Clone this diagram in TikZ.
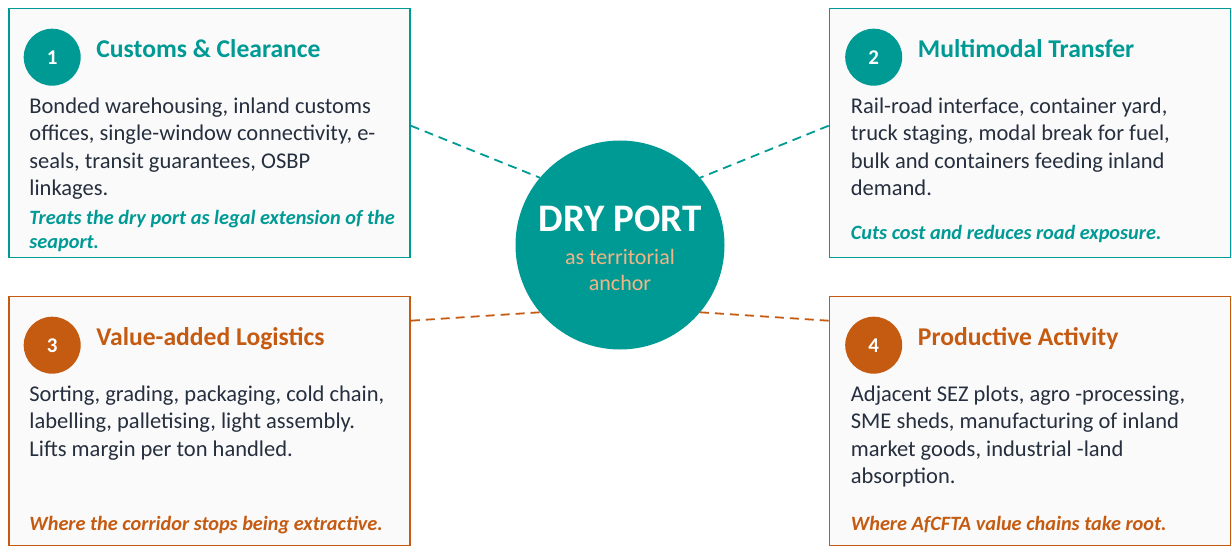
\documentclass[tikz,border=0pt]{standalone}
\usepackage{fontspec}
\setmainfont{Carlito}
\usepackage{xcolor}
\usetikzlibrary{positioning}

\definecolor{portTeal}{HTML}{009A95}
\definecolor{portOrange}{HTML}{C55A11}
\definecolor{portPeach}{HTML}{F2B485}
\definecolor{panelBg}{HTML}{FAFAFB}
\definecolor{bodyInk}{HTML}{262F3E}

\begin{document}
\begin{tikzpicture}[
    x=1pt, y=-1pt,
    panel/.style={rectangle, draw, line width=1.6pt, fill=panelBg, minimum width=401pt, minimum height=249pt, inner sep=0pt},
    badge/.style={circle, minimum size=57pt, inner sep=0pt, text=white, font=\fontsize{21}{25}\selectfont\bfseries},
    heading/.style={anchor=base west, inner sep=0pt, font=\fontsize{25.6}{30}\selectfont\bfseries},
    body/.style={anchor=north west, inner sep=0pt, align=left, text=bodyInk, font=\fontsize{22.5}{27.3}\selectfont},
    note/.style={anchor=north west, inner sep=0pt, align=left, font=\fontsize{20.3}{24}\selectfont\bfseries\itshape},
    link/.style={line width=1.8pt, dash pattern=on 9pt off 6pt}
]
\useasboundingbox (0,0) rectangle (1231,548);

% four panels
\node[panel, draw=portTeal] (custom) at (209.5,133) {};
\node[panel, draw=portTeal] (transfer) at (1030,133) {};
\node[panel, draw=portOrange] (logistic) at (209.5,421) {};
\node[panel, draw=portOrange] (product) at (1030,421) {};

% central hub
\node[circle, fill=portTeal, minimum size=209pt, inner sep=0pt] (hub) at (620,245) {};
\node[anchor=base, inner sep=0pt, text=white, font=\fontsize{39}{44}\selectfont\bfseries] (hubname) at ([yshift=14pt]hub.center) {DRY PORT};
\node[anchor=north, inner sep=0pt, align=center, text=portPeach, font=\fontsize{22}{26}\selectfont] (hubrole) at ([yshift=-1pt]hub.center) {\strut as territorial\\ anchor};

% panel 1
\node[badge, fill=portTeal] (n1) at ([xshift=44pt, yshift=-49.5pt]custom.north west) {1};
\node[heading, text=portTeal] (t1) at ([xshift=88pt, yshift=-50pt]custom.north west) {Customs \& Clearance};
\node[body] (b1) at ([xshift=21pt, yshift=-86.4pt]custom.north west) {\strut Bonded warehousing, inland customs\\ offices, single-window connectivity, e-\\ seals, transit guarantees, OSBP\\ linkages.};
\node[note, text=portTeal] (s1) at ([xshift=21pt, yshift=-200pt]custom.north west) {\strut Treats the dry port as legal extension of the\\ seaport.};

% panel 2
\node[badge, fill=portTeal] (n2) at ([xshift=45pt, yshift=-49.5pt]transfer.north west) {2};
\node[heading, text=portTeal] (t2) at ([xshift=89pt, yshift=-50pt]transfer.north west) {Multimodal Transfer};
\node[body] (b2) at ([xshift=22pt, yshift=-86.4pt]transfer.north west) {\strut Rail-road interface, container yard,\\ truck staging, modal break for fuel,\\ bulk and containers feeding inland\\ demand.};
\node[note, text=portTeal] (s2) at ([xshift=22pt, yshift=-215.2pt]transfer.north west) {\strut Cuts cost and reduces road exposure.};

% panel 3
\node[badge, fill=portOrange] (n3) at ([xshift=44pt, yshift=-49.5pt]logistic.north west) {3};
\node[heading, text=portOrange] (t3) at ([xshift=88pt, yshift=-50pt]logistic.north west) {Value-added Logistics};
\node[body] (b3) at ([xshift=21pt, yshift=-86.4pt]logistic.north west) {\strut Sorting, grading, packaging, cold chain,\\ labelling, palletising, light assembly.\\ Lifts margin per ton handled.};
\node[note, text=portOrange] (s3) at ([xshift=21pt, yshift=-218pt]logistic.north west) {\strut Where the corridor stops being extractive.};

% panel 4
\node[badge, fill=portOrange] (n4) at ([xshift=45pt, yshift=-49.5pt]product.north west) {4};
\node[heading, text=portOrange] (t4) at ([xshift=89pt, yshift=-50pt]product.north west) {Productive Activity};
\node[body] (b4) at ([xshift=22pt, yshift=-86.4pt]product.north west) {\strut Adjacent SEZ plots, agro -processing,\\ SME sheds, manufacturing of inland\\ market goods, industrial -land\\ absorption.};
\node[note, text=portOrange] (s4) at ([xshift=22pt, yshift=-218pt]product.north west) {\strut Where AfCFTA value chains take root.};

% dashed spokes
\coordinate (p1) at ([yshift=-118pt]custom.north east);
\coordinate (p2) at ([yshift=-118pt]transfer.north west);
\coordinate (p3) at ([yshift=-25pt]logistic.north east);
\coordinate (p4) at ([yshift=-25pt]product.north west);
\draw[link, portTeal] (p1) -- (hub.140);
\draw[link, portTeal] (p2) -- (hub.40);
\draw[link, portOrange] (p3) -- (hub.220);
\draw[link, portOrange] (p4) -- (hub.320);

\end{tikzpicture}
\end{document}
